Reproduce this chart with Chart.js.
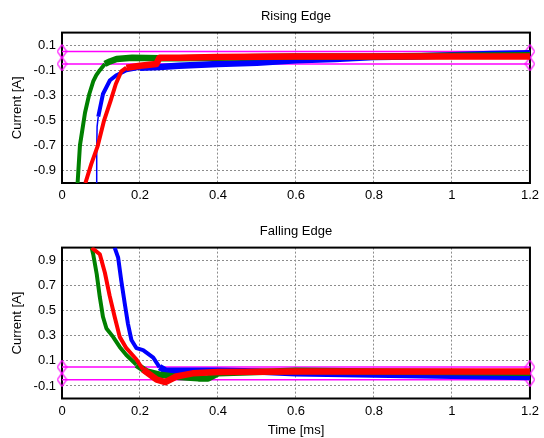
<!DOCTYPE html>
<html><head><meta charset="utf-8">
<script src="https://cdn.jsdelivr.net/npm/chart.js@4"></script>
<style>
html,body{margin:0;padding:0;background:#fff;}
#wrap{position:relative;width:544px;height:438px;background:#fff;}
canvas{position:absolute;left:0;}
#c1{top:0;}
#c2{top:215px;}
</style></head><body>
<div id="wrap"><canvas id="c1" width="544" height="215"></canvas><canvas id="c2" width="544" height="223"></canvas></div>
<script>
// ---- data ----
const xTickValues = [0, 0.2, 0.4, 0.6, 0.8, 1.0, 1.2];
const xTickLabels = ['0', '0.2', '0.4', '0.6', '0.8', '1', '1.2'];
const riseTickValues = [0.1, -0.1, -0.3, -0.5, -0.7, -0.9];
const riseTickLabels = ['0.1', '-0.1', '-0.3', '-0.5', '-0.7', '-0.9'];
const fallTickValues = [0.9, 0.7, 0.5, 0.3, 0.1, -0.1];
const fallTickLabels = ['0.9', '0.7', '0.5', '0.3', '0.1', '-0.1'];
const bandTimes = [0, 1.2];
const bandUpper = 0.05;
const bandLower = -0.05;

// Rising edge traces [time ms, current A]
const riseGreen = [[0.040,-1.0],[0.043,-0.85],[0.046,-0.70],[0.052,-0.58],[0.059,-0.44],[0.070,-0.29],[0.080,-0.19],[0.088,-0.14],[0.097,-0.10],[0.110,-0.05],[0.123,-0.03],[0.14,-0.01],[0.18,0.0],[0.25,-0.005],[0.3,-0.005],[0.4,0.0],[0.5,0.005],[0.6,0.01],[0.8,0.01],[1.0,0.015],[1.2,0.02]];
const riseBlue = [[0.088,-1.0],[0.089,-0.75],[0.090,-0.55],[0.093,-0.47],[0.105,-0.29],[0.123,-0.18],[0.14,-0.14],[0.165,-0.10],[0.2,-0.08],[0.25,-0.075],[0.3,-0.065],[0.4,-0.05],[0.5,-0.04],[0.6,-0.02],[0.7,-0.01],[0.8,0.005],[0.9,0.01],[1.0,0.02],[1.1,0.03],[1.2,0.035]];
const riseRed = [[0.060,-1.0],[0.075,-0.85],[0.091,-0.71],[0.108,-0.50],[0.125,-0.34],[0.138,-0.21],[0.152,-0.11],[0.165,-0.08],[0.2,-0.065],[0.242,-0.05],[0.25,0.0],[0.3,0.0],[0.4,0.005],[0.6,0.01],[0.8,0.01],[1.0,0.01],[1.2,0.01]];

// Falling edge traces
const fallGreen = [[0.076,1.0],[0.080,0.947],[0.089,0.79],[0.097,0.606],[0.105,0.45],[0.114,0.357],[0.131,0.29],[0.148,0.21],[0.165,0.146],[0.191,0.068],[0.217,0.015],[0.25,-0.01],[0.3,-0.03],[0.35,-0.04],[0.375,-0.04],[0.4,0.0],[0.5,0.01],[0.6,0.02],[0.8,0.015],[1.0,0.01],[1.2,0.005]];
const fallRed = [[0.076,1.0],[0.097,0.947],[0.110,0.80],[0.122,0.62],[0.135,0.45],[0.148,0.29],[0.165,0.20],[0.191,0.11],[0.208,0.03],[0.243,-0.05],[0.265,-0.07],[0.293,-0.025],[0.335,0.0],[0.4,0.01],[0.6,0.015],[0.8,0.015],[1.0,0.015],[1.2,0.015]];
const fallBlue = [[0.135,1.0],[0.144,0.92],[0.152,0.737],[0.161,0.553],[0.169,0.396],[0.178,0.265],[0.191,0.2],[0.208,0.185],[0.234,0.125],[0.25,0.05],[0.267,0.02],[0.3,0.02],[0.4,0.02],[0.5,0.015],[0.6,0.0],[0.8,-0.01],[1.0,-0.02],[1.2,-0.03]];

// ---- styling / rendering ----
const FONT = "'Liberation Sans', Arial, sans-serif";
const FS = 13;
const BLUE = '#0000ff', GREEN = '#008000', RED = '#ff0000', MAG = '#ff00ff';

function makeDiamond() {
  const c = document.createElement('canvas');
  c.width = 11; c.height = 15;
  const g = c.getContext('2d');
  g.strokeStyle = MAG; g.lineWidth = 1.2;
  g.beginPath();
  g.moveTo(5.5, 0.8); g.lineTo(10.2, 7.5); g.lineTo(5.5, 14.2); g.lineTo(0.8, 7.5); g.closePath();
  g.stroke();
  return c;
}
const diamond = makeDiamond();

const framePlugin = {
  id: 'frame',
  beforeDatasetsDraw(chart) {
    const a = chart.chartArea, ctx = chart.ctx;
    ctx.save();
    ctx.strokeStyle = '#000'; ctx.lineWidth = 2;
    ctx.strokeRect(a.left, a.top, a.right - a.left, a.bottom - a.top);
    ctx.restore();
  }
};

function toXY(arr) { return arr.map(p => ({x: p[0], y: p[1]})); }
// noisy steady-state portions are drawn as a wider band, steep edges narrower
function segWidth(c, thinSegs) {
  if (c.p0DataIndex < thinSegs) return 1.5;
  const a = Math.abs(c.p0.parsed.y), b = Math.abs(c.p1.parsed.y);
  return (a <= 0.09 && b <= 0.09) ? 6.5 : 4;
}
function trace(arr, color, thinSegs) {
  return {data: toXY(arr), borderColor: color, backgroundColor: color, borderWidth: 4, pointRadius: 0, tension: 0, fill: false,
    borderJoinStyle: 'round', borderCapStyle: 'butt',
    segment: {borderWidth: c => segWidth(c, thinSegs)}};
}
function band(val) {
  return {data: bandTimes.map(t => ({x: t, y: val})), borderColor: MAG, backgroundColor: 'rgba(0,0,0,0)', borderWidth: 1.5,
    pointRadius: 5, pointStyle: diamond, clip: false, fill: false};
}

function makeChart(id, title, yMin, yMax, yVals, yLabels, red, green, blue, blueThin, xHeight, showXTitle) {
  new Chart(document.getElementById(id), {
    type: 'line',
    data: {datasets: [trace(red, RED, 0), trace(green, GREEN, 0), trace(blue, BLUE, blueThin), band(bandUpper), band(bandLower)]},
    options: {
      responsive: false, animation: false, events: [],
      layout: {padding: {left: 0, right: 12, top: 0, bottom: 0}},
      plugins: {
        legend: {display: false}, tooltip: {enabled: false},
        title: {display: true, text: title, color: '#000', fullSize: false,
          font: {family: FONT, size: FS, weight: 'normal'}, padding: {top: 9, bottom: 8}}
      },
      scales: {
        x: {type: 'linear', min: 0, max: 1.2,
          afterBuildTicks: s => { s.ticks = xTickValues.map(v => ({value: v})); },
          afterFit: s => { s.height = xHeight; },
          ticks: {callback: (v, i) => xTickLabels[i], color: '#000', font: {family: FONT, size: FS}, padding: 5, maxRotation: 0, autoSkip: false},
          grid: {color: '#8c8c8c', lineWidth: 1, drawTicks: false},
          border: {display: false, dash: [2, 2]},
          title: {display: showXTitle, text: 'Time [ms]', color: '#000', font: {family: FONT, size: FS}, padding: {top: 0, bottom: 0}}
        },
        y: {type: 'linear', min: yMin, max: yMax,
          afterBuildTicks: s => { s.ticks = yVals.map(v => ({value: v})); },
          afterFit: s => { s.width = 62; },
          ticks: {callback: (v, i) => yLabels[i], color: '#000', font: {family: FONT, size: FS}, padding: 6, autoSkip: false},
          grid: {color: '#8c8c8c', lineWidth: 1, drawTicks: false},
          border: {display: false, dash: [2, 2]},
          title: {display: true, text: 'Current [A]', color: '#000', font: {family: FONT, size: FS}, padding: {top: 10, bottom: 0}}
        }
      }
    },
    plugins: [framePlugin]
  });
}

makeChart('c1', 'Rising Edge', -1.0, 0.2, riseTickValues, riseTickLabels, riseRed, riseGreen, riseBlue, 3, 32, false);
makeChart('c2', 'Falling Edge', -0.2, 1.0, fallTickValues, fallTickLabels, fallRed, fallGreen, fallBlue, 0, 39.5, true);
</script>
</body></html>
